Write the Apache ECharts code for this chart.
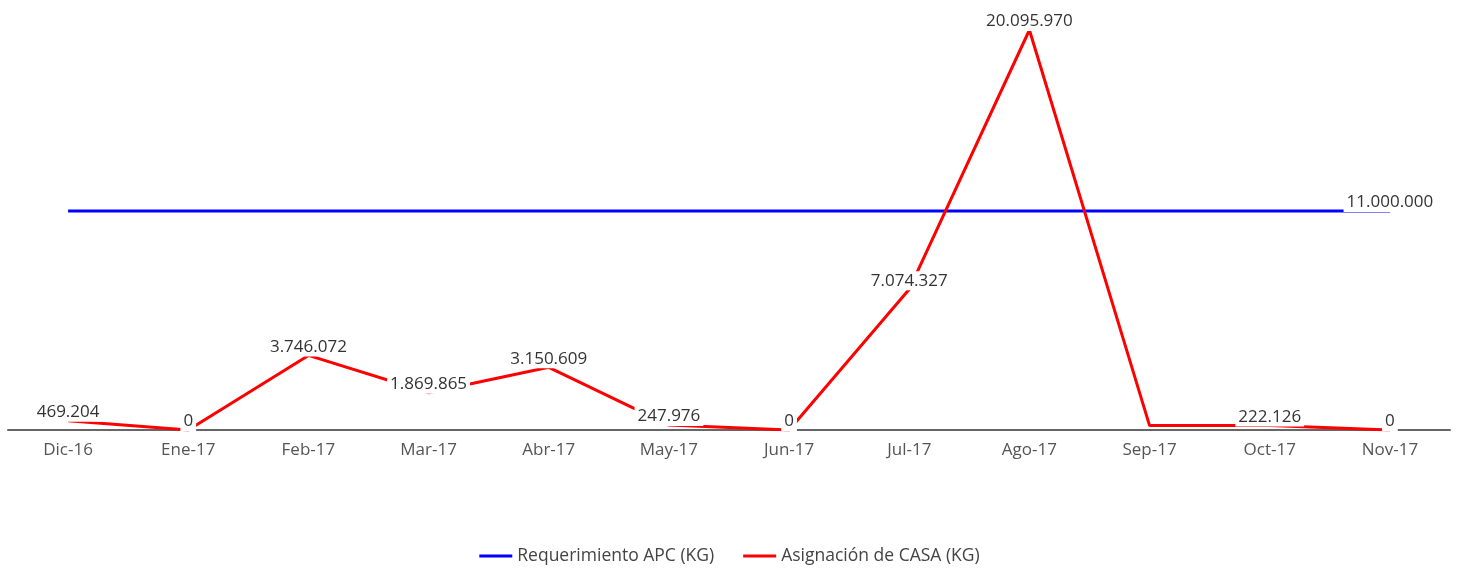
<!DOCTYPE html>
<html>
<head>
<meta charset="utf-8">
<script src="https://cdn.jsdelivr.net/npm/echarts@6/dist/echarts.min.js"></script>
<style>
  html, body { margin: 0; padding: 0; background: #fff; }
  #chart { width: 1459px; height: 571px; }
</style>
</head>
<body>
<div id="chart"></div>
<script>
var meses = ['Dic-16', 'Ene-17', 'Feb-17', 'Mar-17', 'Abr-17', 'May-17', 'Jun-17', 'Jul-17', 'Ago-17', 'Sep-17', 'Oct-17', 'Nov-17'];
var requerimiento = [11000000, 11000000, 11000000, 11000000, 11000000, 11000000, 11000000, 11000000, 11000000, 11000000, 11000000, 11000000];
var asignacion = [469204, 0, 3746072, 1869865, 3150609, 247976, 0, 7074327, 20095970, 222126, 222126, 0];

function fmt(v) {
	return String(v).replace(/(\d)(?=(\d{3})+$)/g, '$1.');
}

var chart = echarts.init(document.getElementById('chart'));

var labelBase = {
	show: true,
	position: 'top',
	distance: -1,
	color: '#333',
	fontSize: 17,
	fontFamily: 'Open Sans',
	backgroundColor: '#fff',
	padding: [1, 3],
	formatter: function (p) { return fmt(p.value); }
};

//solo la ultima etiqueta para la linea azul
var reqData = requerimiento.map(function (v, i) {
	return { value: v, label: { show: i === requerimiento.length - 1 } };
});
//la de septiembre no se ve en el original
var asigData = asignacion.map(function (v, i) {
	return { value: v, label: { show: i !== 9 } };
});

var option = {
	animation: false,
	textStyle: { fontFamily: 'Open Sans' },
	grid: { left: 8, right: 9, top: 30, bottom: 141 },
	legend: {
		bottom: 1,
		left: 'center',
		icon: 'rect',
		itemWidth: 33,
		itemHeight: 3,
		itemGap: 29,
		textStyle: { color: '#444', fontSize: 17.5, fontFamily: 'Open Sans' },
		data: ['Requerimiento APC (KG)', 'Asignación de CASA (KG)']
	},
	xAxis: {
		type: 'category',
		data: meses,
		boundaryGap: true,
		axisLine: { lineStyle: { color: '#666', width: 2 } },
		axisTick: { show: false },
		axisLabel: { color: '#555', fontSize: 17, margin: 12, fontFamily: 'Open Sans' }
	},
	yAxis: {
		type: 'value',
		min: 0,
		max: 20095970,
		show: false,
		splitLine: { show: false }
	},
	series: [
		{
			name: 'Requerimiento APC (KG)',
			type: 'line',
			data: reqData,
			symbol: 'circle',
			symbolSize: 0,
			color: '#0000ff',
			lineStyle: { color: '#0000ff', width: 3 },
			label: labelBase
		},
		{
			name: 'Asignación de CASA (KG)',
			type: 'line',
			data: asigData,
			symbol: 'circle',
			symbolSize: 0,
			color: '#ff0000',
			lineStyle: { color: '#ff0000', width: 3 },
			label: labelBase
		}
	]
};

chart.setOption(option);
</script>
</body>
</html>
